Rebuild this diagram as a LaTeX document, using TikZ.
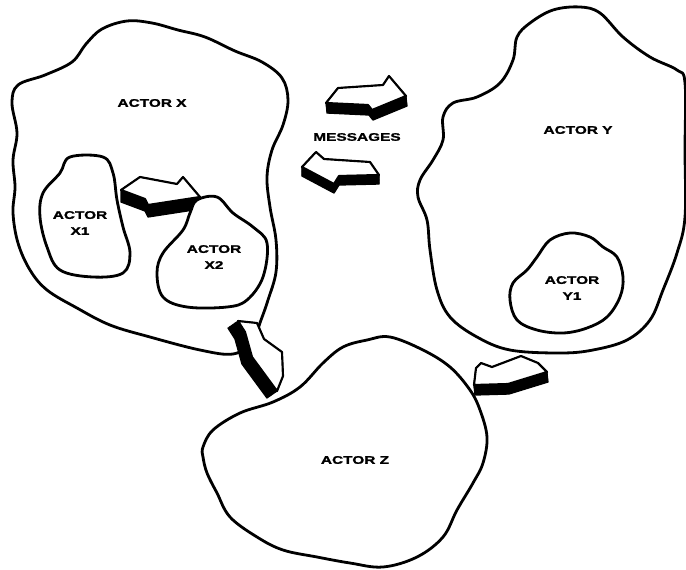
\documentclass[tikz,border=0pt]{standalone}
\usepackage{fontspec}
\newfontfamily\labfont{Liberation Sans}[FakeStretch=1.4,FakeBold=1.5]
\tikzset{
  blob/.style={draw=black,fill=white,line width=2.1pt,line join=round},
  lab/.style={font=\labfont\bfseries\fontsize{8.25pt}{12pt}\selectfont,align=center,inner sep=0pt},
}
\newcommand\blockarrow[3]{%
  \foreach \k in {0,...,12}{%
    \begin{scope}[shift={({\k*(#2)/12},{\k*(#3)/12})}]
      \filldraw[black,line width=1pt,line join=round] #1 -- cycle;
    \end{scope}}%
  \filldraw[fill=white,draw=black,line width=1.6pt,line join=round] #1 -- cycle;
}
\begin{document}
\begin{tikzpicture}[x=0.75pt,y=-0.75pt]
\useasboundingbox (0,0) rectangle (686,569);
% Actor X
\path[blob] plot[smooth cycle,tension=0.6] coordinates {(12,103)(18,85)(45,75)(72,62)(86,44)(102,29)(127,21)(152,23)(178,30)(205,37)(235,51)(262,62)(282,78)(288,100)(283,125)(272,150)(267,177)(270,207)(276,240)(276,272)(268,300)(261,320)(252,342)(233,354)(200,350)(150,337)(110,325)(77,308)(47,290)(30,270)(18,243)(13,213)(15,187)(13,160)(17,133)};
% X1 -> X2 arrow (behind the inner actors)
\blockarrow{(140,177) -- (177,184) -- (183,177) -- (200,197) -- (148,205) -- (145,199) -- (121,190)}{0}{12}
% Actor X1
\path[blob] plot[smooth cycle,tension=0.6] coordinates {(70,157)(103,157)(113,173)(117,200)(123,227)(130,253)(123,273)(93,277)(60,270)(47,247)(40,217)(43,193)(60,173)};
% Actor X2
\path[blob] plot[smooth cycle,tension=0.6] coordinates {(197,200)(217,197)(233,213)(253,227)(267,243)(263,277)(247,300)(227,307)(187,307)(163,297)(157,273)(163,253)(183,230)(190,213)};
% Actor Y
\path[blob] plot[smooth cycle,tension=0.6] coordinates {(530,23)(553,10)(580,7)(600,13)(623,37)(650,57)(677,70)(685,83)(685,150)(685,217)(677,253)(663,290)(650,320)(627,340)(593,350)(560,353)(510,350)(477,337)(450,317)(437,290)(430,250)(427,220)(418,197)(420,180)(433,160)(443,140)(443,117)(453,103)(477,97)(500,83)(513,60)(517,37)};
% Actor Y1
\path[blob] plot[smooth cycle,tension=0.6] coordinates {(537,257)(550,240)(570,233)(590,237)(603,247)(617,257)(623,277)(620,297)(607,317)(587,328)(563,333)(537,330)(517,320)(510,300)(513,283)(527,270)};
% Actor Z
\path[blob] plot[smooth cycle,tension=0.6] coordinates {(203,447)(213,430)(240,413)(273,402)(300,387)(323,363)(343,347)(367,340)(390,337)(423,350)(450,367)(470,390)(480,410)(487,437)(483,463)(473,483)(457,510)(443,537)(417,557)(383,567)(350,563)(317,557)(283,550)(257,537)(230,517)(217,493)(207,473)(203,457)};
% message arrows
\blockarrow{(338,88) -- (383,85) -- (389,76) -- (406,96) -- (372,110) -- (368,105) -- (326,103)}{1}{10}
\blockarrow{(302,167) -- (316,152) -- (324,159) -- (370,162) -- (379,175) -- (339,176) -- (334,184)}{0}{9}
% X -> Z arrow
\blockarrow{(238,321) -- (257,323) -- (264,339) -- (282,352) -- (283,376) -- (277,391) -- (252,357) -- (245,332)}{-10}{7}
% Y -> Z arrow
\blockarrow{(474,385) -- (476,368) -- (481,363) -- (492,367) -- (521,356) -- (538,363) -- (547,372) -- (508,384)}{1}{10}
% labels
\node[lab] (labX) at (152,103) {ACTOR X};
\node[lab] (labX1) at (80,223) {ACTOR\\X1};
\node[lab] (labX2) at (214,257) {ACTOR\\X2};
\node[lab] (labY) at (578,130) {ACTOR Y};
\node[lab] (labY1) at (572,288) {ACTOR\\Y1};
\node[lab] (labZ) at (355,460) {ACTOR Z};
\node[lab] (labM) at (357,137) {MESSAGES};
\end{tikzpicture}
\end{document}
